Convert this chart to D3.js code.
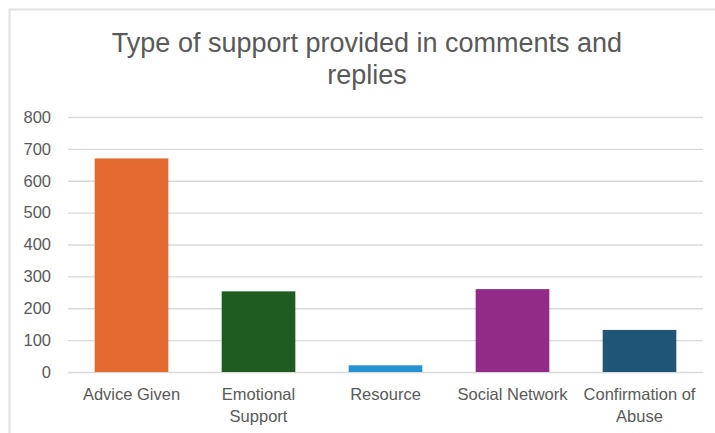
<!DOCTYPE html>
<html>
<head>
<meta charset="utf-8">
<script src="https://cdn.jsdelivr.net/npm/d3@7"></script>
<style>
  html, body { margin: 0; padding: 0; background: #ffffff; }
  svg { display: block; }
  text { font-family: "Liberation Sans", Arial, sans-serif; fill: #595959; }
</style>
</head>
<body>
<div id="chart"></div>
<script>
// Counts of each support type found in comments and replies
const categories = [["Advice Given"], ["Emotional", "Support"], ["Resource"], ["Social Network"], ["Confirmation of", "Abuse"]];
const values = [670, 253, 21, 260, 132];
const colors = ["#E3692F", "#1F5C22", "#2593D1", "#922B87", "#1F5577"];
const yTicks = [0, 100, 200, 300, 400, 500, 600, 700, 800];
const titleLines = ["Type of support provided in comments and", "replies"];

const W = 715, H = 433;
const margin = { left: 68, right: 12, top: 117, bottom: 61 };

const svg = d3.select("#chart").append("svg").attr("width", W).attr("height", H);

// chart frame
svg.append("rect")
  .attr("x", 9.5).attr("y", 9.5)
  .attr("width", W + 10).attr("height", H + 10)
  .attr("fill", "#ffffff").attr("stroke", "#e2e2e2").attr("stroke-width", 2);

const x = d3.scaleBand()
  .domain(d3.range(values.length))
  .range([margin.left, W - margin.right])
  .paddingInner(0.42).paddingOuter(0.21);

const y = d3.scaleLinear().domain([0, 800]).range([H - margin.bottom, margin.top]);

// title
svg.append("text")
  .attr("x", 367).attr("y", 52)
  .attr("text-anchor", "middle")
  .attr("font-size", 27)
  .selectAll("tspan").data(titleLines).join("tspan")
  .attr("x", 367).attr("dy", (d, i) => i === 0 ? 0 : 32)
  .text(d => d);

// gridlines + value axis labels
const yAxis = d3.axisLeft(y).tickValues(yTicks).tickSize(-(W - margin.right - margin.left)).tickPadding(17);
const gy = svg.append("g").attr("transform", `translate(${margin.left},0)`).call(yAxis);
gy.select(".domain").remove();
gy.selectAll(".tick line").attr("stroke", "#d9d9d9").attr("stroke-width", 1.3);
gy.selectAll(".tick text").attr("font-size", 16.5).attr("fill", "#595959").attr("font-family", "Liberation Sans, Arial, sans-serif");

// bars
svg.append("g").selectAll("rect").data(values).join("rect")
  .attr("x", (d, i) => x(i))
  .attr("y", d => y(d))
  .attr("width", x.bandwidth())
  .attr("height", d => y(0) - y(d))
  .attr("fill", (d, i) => colors[i]);

// category axis labels
const xAxis = d3.axisBottom(x).tickSize(0).tickFormat("");
const gx = svg.append("g").attr("transform", `translate(0,${y(0)})`).call(xAxis);
gx.select(".domain").remove();
gx.selectAll(".tick").each(function (d) {
  const t = d3.select(this).append("text")
    .attr("text-anchor", "middle")
    .attr("font-size", 16.5)
    .attr("fill", "#595959")
    .attr("y", 28);
  categories[d].forEach((line, j) => {
    t.append("tspan").attr("x", 0).attr("dy", j === 0 ? 0 : 22).text(line);
  });
});
</script>
</body>
</html>
